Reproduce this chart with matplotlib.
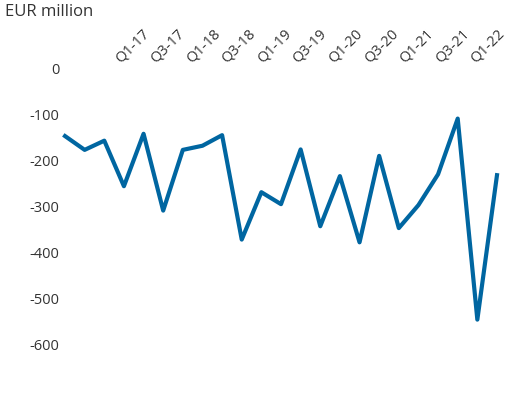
import numpy as np
import matplotlib.pyplot as plt

plt.rcParams['font.family'] = ['Open Sans', 'DejaVu Sans']

# quarterly values, Q3-16 .. Q1-22 (EUR million)
quarters = ['Q3-16', 'Q4-16',
            'Q1-17', 'Q2-17', 'Q3-17', 'Q4-17',
            'Q1-18', 'Q2-18', 'Q3-18', 'Q4-18',
            'Q1-19', 'Q2-19', 'Q3-19', 'Q4-19',
            'Q1-20', 'Q2-20', 'Q3-20', 'Q4-20',
            'Q1-21', 'Q2-21', 'Q3-21', 'Q4-21',
            'Q1-22']
values = [-148, -178, -158, -257, -143, -310, -178, -169, -146, -373,
          -270, -296, -177, -344, -235, -379, -191, -348, -298, -231,
          -110, -547, -233]
tick_labels = quarters[2::2]
yticks = [0, -100, -200, -300, -400, -500, -600]

txt = '#333333'
line_col = '#0066a1'

fig = plt.figure(figsize=(5.14, 4.04), dpi=100)
ax = fig.add_axes([55.2/514, 1 - 367/404, (506.8-55.2)/514, (367-63.4)/404])

x = np.arange(len(values))
ax.plot(x, values, color=line_col, lw=3, solid_joinstyle='round')

ax.set_xlim(-0.5, 22.5)
ax.set_ylim(-650, 10)
ax.set_yticks(yticks)
ax.set_yticklabels([str(v) for v in yticks])
ax.tick_params(axis='y', length=0, pad=-3, labelsize=10.5, labelcolor=txt)
ax.set_xticks([])
for s in ax.spines.values():
    s.set_visible(False)

# category labels on top, spaced evenly
ax2 = ax.twiny()
ax2.set_xlim(-2.157, 10.53)
ax2.set_xticks(range(len(tick_labels)))
ax2.set_xticklabels(tick_labels, rotation=45, ha='center', va='bottom')
ax2.tick_params(axis='x', length=0, pad=-2, labelsize=10.5, labelcolor=txt)
for s in ax2.spines.values():
    s.set_visible(False)

fig.text(5/514, 1 - 4/404, 'EUR million', ha='left', va='top', fontsize=12, color=txt)

fig.savefig('out.png', dpi=100)
